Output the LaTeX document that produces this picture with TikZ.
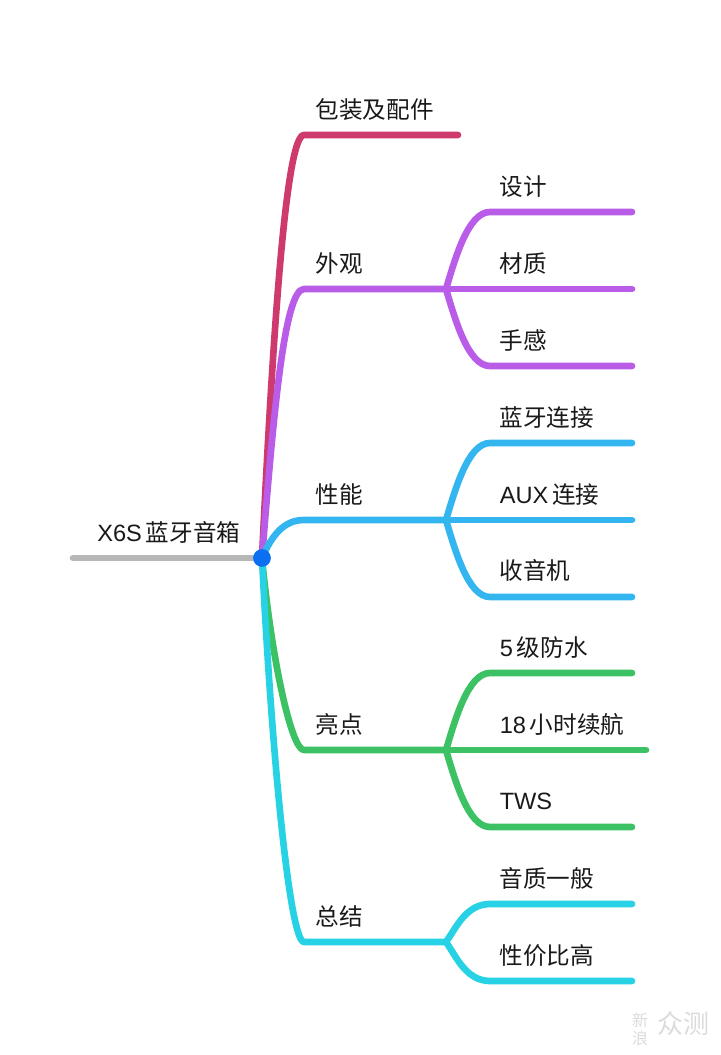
\documentclass[tikz,border=0pt]{standalone}
\usepackage{fontspec}
\setmainfont{Noto Sans CJK SC}
\newfontfamily\latinfont{Liberation Sans}
\usetikzlibrary{positioning}
\definecolor{rootgray}{HTML}{B7B7B7}
\definecolor{hubblue}{HTML}{0A6FF0}
\definecolor{packred}{HTML}{CF3A6E}
\definecolor{lookpurple}{HTML}{B95CE8}
\definecolor{perfblue}{HTML}{33B5F0}
\definecolor{hiliteGreen}{HTML}{3CC164}
\definecolor{sumcyan}{HTML}{26D2E4}
\tikzset{
  branch/.style = {line width=5pt, line cap=round, line join=round},
  topic/.style = {anchor=west, inner sep=0pt, font=\fontsize{17.7pt}{20pt}\selectfont, text=black!90},
  hubdot/.style = {circle, fill=hubblue, minimum size=13.3pt, inner sep=0pt},
  stamp/.style = {inner sep=0pt, text=black!14}
}

\begin{document}
\begin{tikzpicture}[x=0.75pt, y=-0.75pt]
    \useasboundingbox (0,0) rectangle (720,1055);

    % Hub and first level turning points
    \coordinate (hub) at (262,558);
    \coordinate (rootend) at (73,558);
    \coordinate (packend) at (458,135);
    \coordinate (lookfork) at (446,289);
    \coordinate (perffork) at (446,520);
    \coordinate (hilitefork) at (446,750);
    \coordinate (sumfork) at (446,942);

    % Free ends of the leaf lines
    \coordinate (designend) at (632,212);
    \coordinate (materialend) at (632,289);
    \coordinate (feelend) at (632,366);
    \coordinate (btend) at (632,443);
    \coordinate (auxend) at (632,520);
    \coordinate (radioend) at (632,597);
    \coordinate (waterend) at (632,673);
    \coordinate (batteryend) at (646,750);
    \coordinate (twsend) at (632,827);
    \coordinate (soundend) at (632,904);
    \coordinate (priceend) at (632,981);

    % Labels
    \node [topic] (root) at (97,532.5) {{\latinfont X6S}\,蓝牙音箱};
    \node [topic] (pack) at (315.5,109.5) {包装及配件};
    \node [topic] (look) at (315.5,263.5) {外观};
    \node [topic] (perf) at (315.5,494.5) {性能};
    \node [topic] (hilite) at (315.5,724.5) {亮点};
    \node [topic] (sum) at (315.5,916.5) {总结};
    \node [topic] (design) at (499.5,186.5) {设计};
    \node [topic] (material) at (499.5,263.5) {材质};
    \node [topic] (feel) at (499.5,340) {手感};
    \node [topic] (bt) at (499.5,417.5) {蓝牙连接};
    \node [topic] (aux) at (499.5,494.5) {{\latinfont AUX}\,连接};
    \node [topic] (radio) at (499.5,570.5) {收音机};
    \node [topic] (water) at (499.5,647.5) {{\latinfont 5}\,级防水};
    \node [topic] (battery) at (499.5,724.5) {{\latinfont 18}\,小时续航};
    \node [topic] (tws) at (499.5,801.5) {{\latinfont TWS}};
    \node [topic] (sound) at (499.5,878.5) {音质一般};
    \node [topic] (price) at (499.5,955.5) {性价比高};

    % Main branches
    \draw [branch, hiliteGreen] (hub) .. controls (271,655) and (291,750) .. (304,750) -- (hilitefork);
    \draw [branch, sumcyan] (hub) .. controls (272,760) and (290,942) .. (304,942) -- (sumfork);
    \draw [branch, packred] (hub) .. controls (273,330) and (286,135) .. (304,135) -- (packend);
    \draw [branch, lookpurple] (hub) .. controls (273,420) and (284,289) .. (304,289) -- (lookfork);
    \draw [branch, perfblue] (hub) .. controls (272,535) and (284,520) .. (304,520) -- (perffork);

    % Look
    \draw [branch, lookpurple] (lookfork) .. controls (455,259) and (468,212) .. (490,212) -- (designend);
    \draw [branch, lookpurple] (lookfork) -- (materialend);
    \draw [branch, lookpurple] (lookfork) .. controls (455,319) and (468,366) .. (490,366) -- (feelend);

    % Performance
    \draw [branch, perfblue] (perffork) .. controls (455,490) and (468,443) .. (490,443) -- (btend);
    \draw [branch, perfblue] (perffork) -- (auxend);
    \draw [branch, perfblue] (perffork) .. controls (455,550) and (468,597) .. (490,597) -- (radioend);

    % Highlights
    \draw [branch, hiliteGreen] (hilitefork) .. controls (455,720) and (468,673) .. (490,673) -- (waterend);
    \draw [branch, hiliteGreen] (hilitefork) -- (batteryend);
    \draw [branch, hiliteGreen] (hilitefork) .. controls (455,780) and (468,827) .. (490,827) -- (twsend);

    % Summary
    \draw [branch, sumcyan] (sumfork) .. controls (456,928) and (466,904) .. (490,904) -- (soundend);
    \draw [branch, sumcyan] (sumfork) .. controls (456,956) and (466,981) .. (490,981) -- (priceend);

    % Root line and dot on top
    \draw [branch, rootgray] (rootend) -- (hub);
    \node [hubdot] (dot) at (hub) {};

    % Watermark
    \node [stamp, font=\fontsize{12pt}{13.5pt}\selectfont, align=center] (stampa) at (640,1029) {新\\浪};
    \node [stamp, font=\fontsize{19.5pt}{22pt}\selectfont, right=6.5pt of stampa, yshift=3.75pt] (stampb) {众测};
\end{tikzpicture}
\end{document}
